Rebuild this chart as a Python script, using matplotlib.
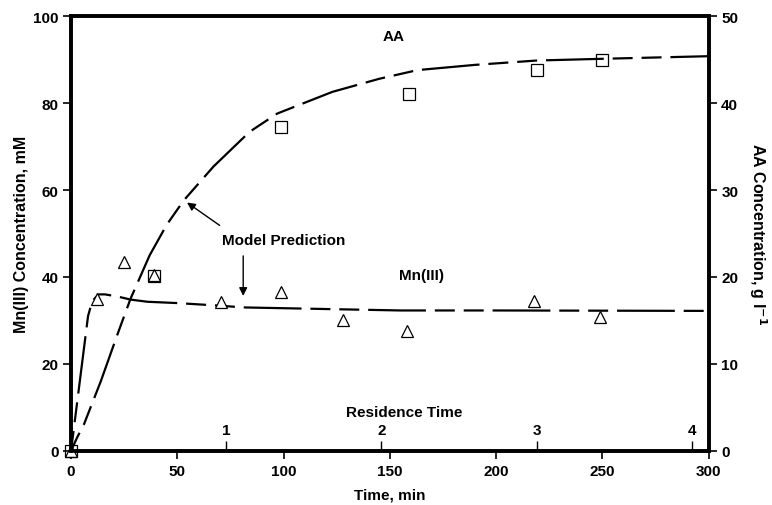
import numpy as np
import matplotlib
matplotlib.use("Agg")
import matplotlib.pyplot as plt

plt.rcParams['font.family'] = ['Liberation Sans', 'DejaVu Sans']
plt.rcParams['font.weight'] = 'bold'

# Measured data
aa_time = [0, 39, 99, 159, 219, 250]
aa_conc = [0, 20.1, 37.2, 41.1, 43.8, 45.0]          # g/l
mn_time = [0, 12, 25, 39, 70.5, 99, 128, 158, 218, 249]
mn_conc = [0, 35.0, 43.5, 40.5, 34.2, 36.5, 30.1, 27.6, 34.5, 30.8]   # mM

# Model prediction curves
aa_model_time = [0, 3, 6, 14, 22, 28, 37, 45, 53, 67, 84, 97, 123, 145, 163, 190, 219, 250, 300]
aa_model_conc = [0, 1.6, 3.0, 8.0, 13.5, 17.5, 22.5, 26.0, 28.8, 32.7, 36.7, 38.8, 41.3, 42.8,
                 43.8, 44.4, 44.9, 45.1, 45.4]
mn_model_time = [0, 4, 8, 10, 13, 16, 22, 28, 36, 50, 70, 81, 123, 155, 200, 300]
mn_model_conc = [0, 15.5, 31.0, 34.5, 36.0, 36.0, 35.5, 34.8, 34.3, 34.0, 33.4, 33.0, 32.6,
                 32.3, 32.3, 32.2]

residence = 73.0   # min per residence time
res_ticks = [1, 2, 3, 4]

fig = plt.figure(figsize=(7.72, 5.06), dpi=100)
ax = fig.add_axes([0.092, 0.107, 0.826, 0.859])
ax2 = ax.twinx()

dash = (0, (9, 4, 9, 4, 26, 4))
ax.plot(mn_model_time, mn_model_conc, color='black', lw=1.6, linestyle=dash)
ax2.plot(aa_model_time, aa_model_conc, color='black', lw=1.6, linestyle=dash)

ax.plot(mn_time, mn_conc, linestyle='none', marker='^', markersize=9,
        markerfacecolor='white', markeredgecolor='black', markeredgewidth=0.9, clip_on=False, zorder=5)
ax2.plot(aa_time, aa_conc, linestyle='none', marker='s', markersize=9,
         markerfacecolor='none', markeredgecolor='black', markeredgewidth=0.9, clip_on=False, zorder=6)

ax.set_xlim(0, 300)
ax.set_ylim(0, 100)
ax2.set_ylim(0, 50)
ax.set_xticks([0, 50, 100, 150, 200, 250, 300])
ax.set_yticks([0, 20, 40, 60, 80, 100])
ax2.set_yticks([0, 10, 20, 30, 40, 50])

for a in (ax, ax2):
    for s in a.spines.values():
        s.set_linewidth(2.6)
    a.tick_params(direction='out', length=6, width=1.2, labelsize=11)
ax.tick_params(axis='y', pad=3)
ax2.tick_params(axis='y', pad=3)

ax.set_xlabel('Time, min', fontsize=11, fontweight='bold', labelpad=7)
ax.set_ylabel('Mn(III) Concentration, mM', fontsize=11.5, fontweight='bold', labelpad=3)
ax2.set_ylabel('AA Concentration, g l$^{\\mathbf{-1}}$', fontsize=11.5, fontweight='bold',
               rotation=-90, labelpad=22)

# residence time scale along the time axis
sec = ax.secondary_xaxis(0, functions=(lambda t: t / residence, lambda r: r * residence))
sec.set_alignment('top')
sec.set_xticks(res_ticks)
sec.spines['top'].set_visible(False)
sec.tick_params(direction='out', length=7, width=1.0, labelsize=11, pad=3)
sec.set_xlabel('Residence Time', fontsize=11, fontweight='bold', labelpad=5, x=0.523)

ax.text(152, 95.5, 'AA', fontsize=11, fontweight='bold', ha='center', va='center')
ax.text(165, 40.5, 'Mn(III)', fontsize=11, fontweight='bold', ha='center', va='center')
ax.text(100, 48.5, 'Model Prediction', fontsize=11, fontweight='bold', ha='center', va='center')
ax.annotate('', xy=(53.5, 57.5), xytext=(71, 51.5),
            arrowprops=dict(arrowstyle='-|>', color='black', lw=1.0, mutation_scale=12))
ax.annotate('', xy=(81, 35.0), xytext=(81, 45.5),
            arrowprops=dict(arrowstyle='-|>', color='black', lw=1.0, mutation_scale=12))

fig.savefig('out.png', dpi=100)
